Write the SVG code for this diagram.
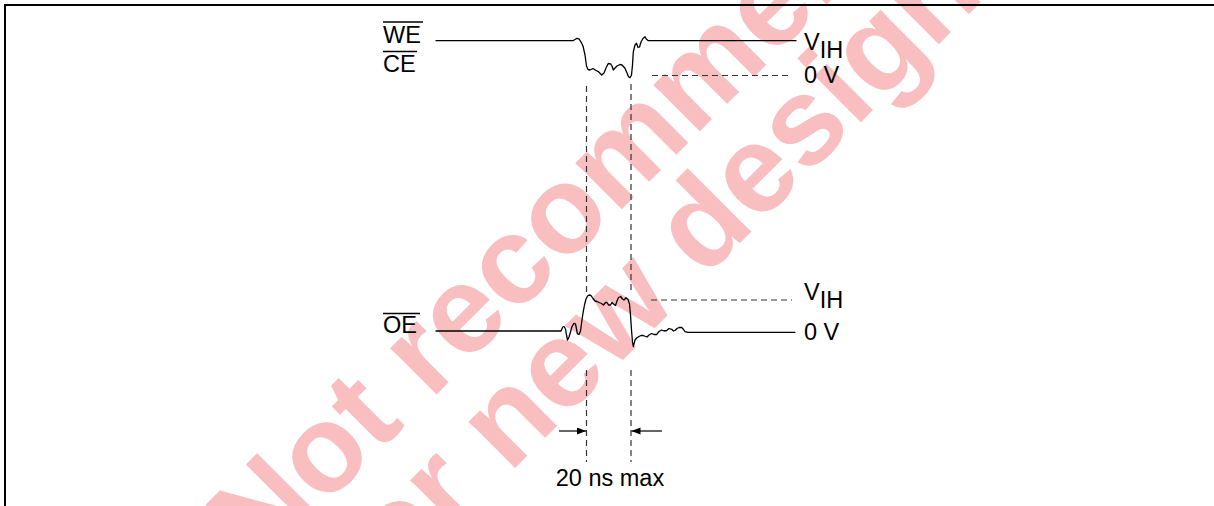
<svg xmlns="http://www.w3.org/2000/svg" width="1214" height="506" viewBox="0 0 1214 506">
<style>
.wm{font-family:"Liberation Sans",Arial,sans-serif;font-weight:bold;font-size:124px;fill:#f9bec0}
.lbl{font-family:"Liberation Sans",Arial,sans-serif;font-size:23.5px;fill:#000}
.wave{fill:none;stroke:#000;stroke-width:1.3;stroke-linejoin:round;stroke-linecap:round}
.lvl{fill:none;stroke:#333;stroke-width:1.2;stroke-dasharray:6 4}
.vd{fill:none;stroke:#333;stroke-width:1.2;stroke-dasharray:6 4}
.ol{stroke:#000;stroke-width:1.3}
.arr{stroke:#000;stroke-width:1.2;marker-end:url(#ah)}
</style>
<defs>
<marker id="ah" markerUnits="userSpaceOnUse" markerWidth="10" markerHeight="8" refX="9" refY="3.5" orient="auto">
<path d="M0,0 L9,3.5 L0,7 z" fill="#000"/>
</marker>
</defs>
<rect width="1214" height="506" fill="#fff"/>
<g id="watermark">
<text class="wm" x="645" y="186" text-anchor="middle" transform="rotate(-45 645 186)">Not recommended</text>
<text class="wm" x="677" y="306" text-anchor="middle" transform="rotate(-45 677 306)">for new design</text>
</g>
<g id="frame" stroke="#000" stroke-width="2">
<path d="M4,5 H1214"/>
<path d="M5,4 V506"/>
</g>
<g id="signal-we-ce">
<text class="lbl" x="383" y="43">WE</text>
<line class="ol" x1="383" y1="22" x2="423" y2="22"/>
<text class="lbl" x="383" y="72">CE</text>
<line class="ol" x1="383" y1="51.5" x2="417" y2="51.5"/>
<path class="wave" d="M436,40.7 L573,40.7 L575,39.5 L577,38.3 L579,38.8 L581,42 L583,46 L585,55 L586.5,66 L588,69.5 L590,70 L593,68.5 L596,70.5 L598.5,71.7 L601.7,75 L604,73 L606,68 L608.3,63.5 L610.5,63.8 L612,66 L613.3,70 L615,68 L617,66 L620,64.5 L622,65 L625,68.3 L627,73 L628.5,76.7 L630,77.7 L631.5,75 L632.5,65 L633.3,52 L635,45 L636.5,43.3 L638,47.5 L639.5,47 L641,42 L643,38.5 L645,36.7 L646.3,39 L648.3,40.7 L796,40.7"/>
<path class="lvl" d="M652,75.5 L792,75.5"/>
<text class="lbl" x="804" y="50">V<tspan dy="7.5">IH</tspan></text>
<text class="lbl" x="804" y="83">0 V</text>
</g>
<g id="signal-oe">
<text class="lbl" x="383" y="333">OE</text>
<line class="ol" x1="383" y1="313.5" x2="420" y2="313.5"/>
<path class="wave" d="M436,331 L561,331 L562.7,327 L564,326.5 L565.5,329 L566.7,336 L567.5,340 L569,337 L570.5,332 L572,326.5 L574,323.3 L575.5,324 L576.5,329 L577.5,334 L579,334.5 L580.5,331 L581.7,322 L583,313 L584.5,305 L586,299 L587.5,296 L589,295 L591,295.5 L593,298.5 L595,301 L597,301.5 L599,302.5 L601.5,303.5 L603.5,305 L605.5,302.5 L607,302.5 L608.5,305 L610.5,305 L612,302.5 L613.5,304 L615.5,305.5 L617,301 L618.5,297.5 L620.7,296.5 L622.5,299 L624,300 L626,297.7 L628,299.5 L629.5,304 L630.5,315 L631.5,330 L632.5,342 L633.3,346.5 L635,340 L636.7,338 L639,336.5 L641,335.5 L643.3,335.5 L645.5,336.5 L647,337 L649,335 L651.7,333.5 L654,334.5 L656.7,334.5 L659,331.5 L661.7,330 L664,331 L666.7,330.5 L669,328.5 L671.7,329.3 L673.5,331 L675,330.5 L677,328.5 L679,327.5 L681.7,327.3 L683.5,329.5 L685,331.7 L688,332.3 L795,332.3"/>
<path class="lvl" d="M651,300 L792,300"/>
<text class="lbl" x="804" y="300">V<tspan dy="7.5">IH</tspan></text>
<text class="lbl" x="804" y="340">0 V</text>
</g>
<g id="connectors">
<path class="vd" d="M586.5,86 V292 M586.5,370 V462"/>
<path class="vd" d="M631,84 V292 M631,370 V462"/>
<line class="arr" x1="559" y1="431" x2="586" y2="431"/>
<line class="arr" x1="662" y1="431" x2="631.5" y2="431"/>
</g>
<g id="timing-label">
<text class="lbl" x="610" y="486" text-anchor="middle">20 ns max</text>
</g>
</svg>
